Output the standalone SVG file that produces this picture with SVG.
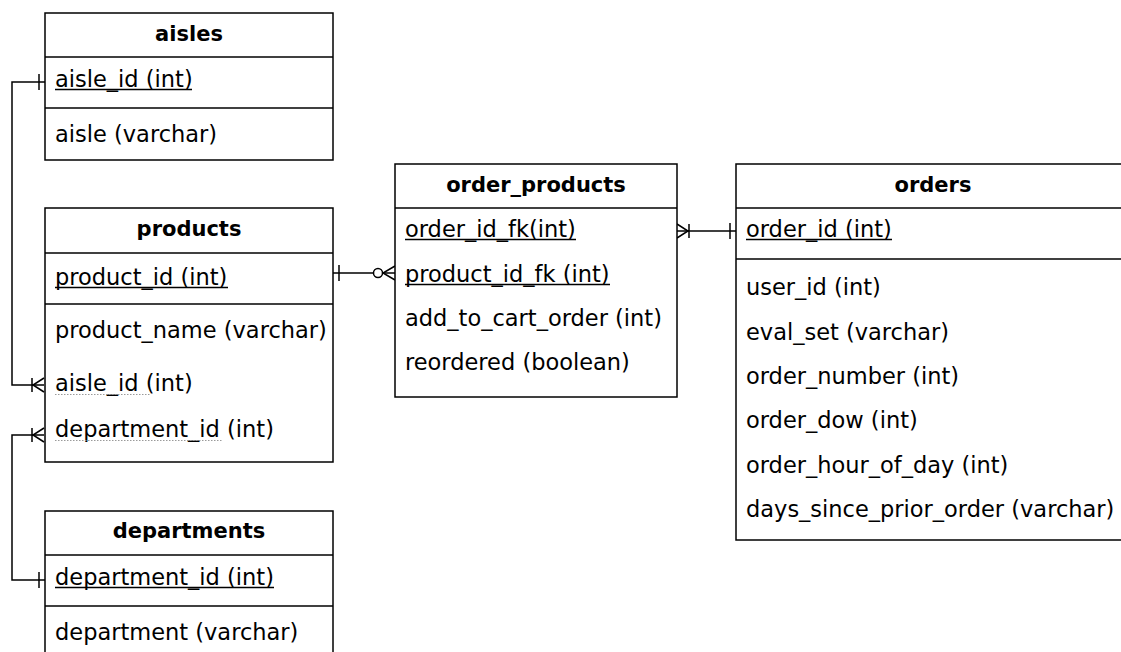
<svg xmlns="http://www.w3.org/2000/svg" width="1121" height="652" viewBox="0 0 1121 652">
<style>
  .box { fill: #ffffff; stroke: #000000; stroke-width: 1.5; }
  .sep { stroke: #000000; stroke-width: 1.5; }
  .title { font-family: "DejaVu Sans", "Liberation Sans", sans-serif; font-size: 21px; font-weight: bold; fill: #000000; text-anchor: middle; }
  .attr { font-family: "DejaVu Sans", "Liberation Sans", sans-serif; font-size: 22.5px; fill: #000000; }
  .ul { stroke: #000000; stroke-width: 1.3; }
  .fk { stroke: #9a9a9a; stroke-width: 1; stroke-dasharray: 1.5 1.5; }
  .conn { fill: none; stroke: #000000; stroke-width: 1.5; }
  .mk { fill: none; stroke: #000000; stroke-width: 1.5; }
</style>
<defs>
  <marker id="one" viewBox="-22 -11 24 22" refX="0" refY="0" markerWidth="24" markerHeight="22" markerUnits="userSpaceOnUse" orient="auto-start-reverse" overflow="visible">
    <path class="mk" d="M -6 -8 V 8"/>
  </marker>
  <marker id="mandMany" viewBox="-22 -11 24 22" refX="0" refY="0" markerWidth="24" markerHeight="22" markerUnits="userSpaceOnUse" orient="auto-start-reverse" overflow="visible">
    <path class="mk" d="M 0 -7 L -11 0 L 0 7 M -12 -7 V 7"/>
  </marker>
  <marker id="zeroMany" viewBox="-26 -11 28 22" refX="0" refY="0" markerWidth="28" markerHeight="22" markerUnits="userSpaceOnUse" orient="auto-start-reverse" overflow="visible">
    <path class="mk" d="M 0 -7 L -12 0 L 0 7"/>
    <circle cx="-17" cy="0" r="4.5" fill="#ffffff" stroke="#000000" stroke-width="1.5"/>
  </marker>
</defs>

<g id="connectors">
  <path class="conn" d="M 45 82 H 12 V 385 H 44" marker-start="url(#one)" marker-end="url(#mandMany)"/>
  <path class="conn" d="M 45 580 H 12 V 435 H 44" marker-start="url(#one)" marker-end="url(#mandMany)"/>
  <path class="conn" d="M 333 273 H 395" marker-start="url(#one)" marker-end="url(#zeroMany)"/>
  <path class="conn" d="M 677 231 H 736" marker-start="url(#mandMany)" marker-end="url(#one)"/>
</g>

<g id="aisles">
  <rect class="box" x="45" y="13" width="288" height="147"/>
  <line class="sep" x1="45" y1="57" x2="333" y2="57"/>
  <line class="sep" x1="45" y1="108" x2="333" y2="108"/>
  <text class="title" x="189" y="41">aisles</text>
  <text class="attr" x="55" y="87">aisle_id (int)</text>
  <line class="ul" x1="55" y1="89.5" x2="192" y2="89.5"/>
  <text class="attr" x="55" y="142">aisle (varchar)</text>
</g>

<g id="products">
  <rect class="box" x="45" y="208" width="288" height="254"/>
  <line class="sep" x1="45" y1="253" x2="333" y2="253"/>
  <line class="sep" x1="45" y1="304" x2="333" y2="304"/>
  <text class="title" x="189" y="236">products</text>
  <text class="attr" x="55" y="285">product_id (int)</text>
  <line class="ul" x1="55" y1="287.5" x2="228" y2="287.5"/>
  <text class="attr" x="55" y="338">product_name (varchar)</text>
  <text class="attr" x="55" y="391">aisle_id (int)</text>
  <line class="fk" x1="55" y1="394.5" x2="151" y2="394.5"/>
  <text class="attr" x="55" y="437">department_id (int)</text>
  <line class="fk" x1="55" y1="440.5" x2="222" y2="440.5"/>
</g>

<g id="departments">
  <rect class="box" x="45" y="511" width="288" height="200"/>
  <line class="sep" x1="45" y1="555" x2="333" y2="555"/>
  <line class="sep" x1="45" y1="606" x2="333" y2="606"/>
  <text class="title" x="189" y="538">departments</text>
  <text class="attr" x="55" y="585">department_id (int)</text>
  <line class="ul" x1="55" y1="587.5" x2="274" y2="587.5"/>
  <text class="attr" x="55" y="640">department (varchar)</text>
</g>

<g id="order_products">
  <rect class="box" x="395" y="164" width="282" height="233"/>
  <line class="sep" x1="395" y1="208" x2="677" y2="208"/>
  <text class="title" x="536" y="192">order_products</text>
  <text class="attr" x="405" y="237">order_id_fk(int)</text>
  <line class="ul" x1="405" y1="239.5" x2="576" y2="239.5"/>
  <text class="attr" x="405" y="282">product_id_fk (int)</text>
  <line class="ul" x1="405" y1="284.5" x2="610" y2="284.5"/>
  <text class="attr" x="405" y="326">add_to_cart_order (int)</text>
  <text class="attr" x="405" y="370">reordered (boolean)</text>
</g>

<g id="orders">
  <rect class="box" x="736" y="164" width="400" height="376"/>
  <line class="sep" x1="736" y1="208" x2="1136" y2="208"/>
  <line class="sep" x1="736" y1="259" x2="1136" y2="259"/>
  <text class="title" x="933" y="192">orders</text>
  <text class="attr" x="746" y="237">order_id (int)</text>
  <line class="ul" x1="746" y1="239.5" x2="892" y2="239.5"/>
  <text class="attr" x="746" y="295">user_id (int)</text>
  <text class="attr" x="746" y="340">eval_set (varchar)</text>
  <text class="attr" x="746" y="384">order_number (int)</text>
  <text class="attr" x="746" y="428">order_dow (int)</text>
  <text class="attr" x="746" y="473">order_hour_of_day (int)</text>
  <text class="attr" x="746" y="517">days_since_prior_order (varchar)</text>
</g>
</svg>
